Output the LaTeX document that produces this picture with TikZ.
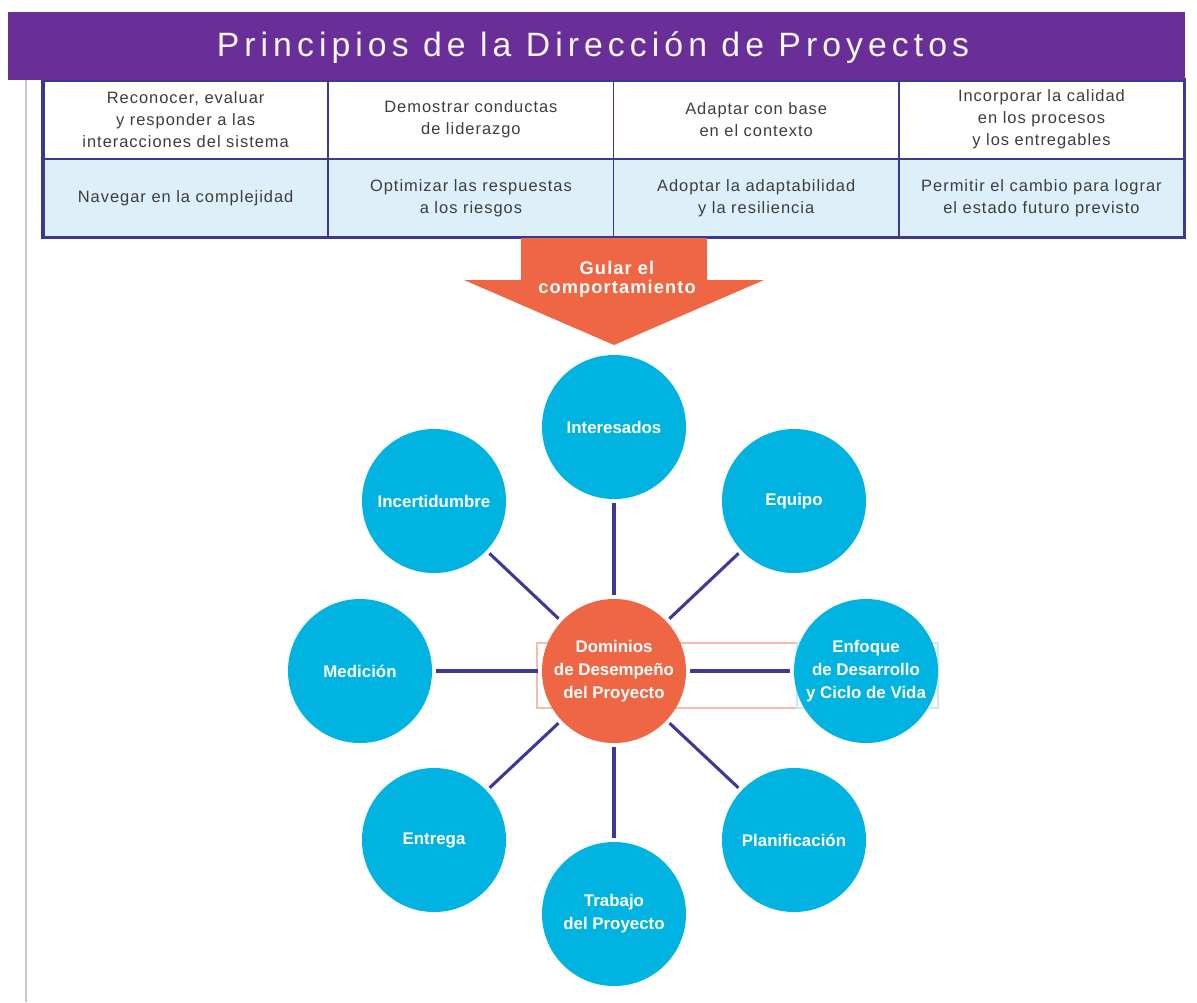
\documentclass[tikz,border=0pt]{standalone}
\usepackage{fontspec}
\setmainfont{Liberation Sans}
\newfontfamily\titulofont{Liberation Sans}[LetterSpace=15]
\newfontfamily\tablafont{Liberation Sans}[LetterSpace=6]
\newfontfamily\flechafont{Liberation Sans}[LetterSpace=6]
\usetikzlibrary{positioning}

\definecolor{tituloMorado}{HTML}{6A2E98}
\definecolor{bordeTabla}{HTML}{3C3990}
\definecolor{filaAzul}{HTML}{DDEFF9}
\definecolor{textoGris}{HTML}{3D3D3D}
\definecolor{circAzul}{HTML}{00B3E0}
\definecolor{circNaranja}{HTML}{EF6644}
\definecolor{lineaAzul}{HTML}{3F3896}

\begin{document}
\begin{tikzpicture}[x=0.025cm,y=-0.025cm,
    celda/.style={draw=bordeTabla,line width=1.2pt,fill=white,rectangle,outer sep=0pt,inner sep=0pt,
        minimum width=7.13cm,minimum height=1.975cm,align=center,text=textoGris,
        font=\tablafont\fontsize{11.7}{15.6}\selectfont},
    celdaazul/.style={celda,fill=filaAzul,minimum height=1.95cm},
    dominio/.style={circle,fill=circAzul,minimum size=3.6cm,inner sep=0pt,align=center,
        text=white,font=\bfseries\fontsize{12}{16.5}\selectfont},
    enlace/.style={draw=lineaAzul,line width=2.2pt,shorten <=2.8pt,shorten >=2.8pt}]

    \useasboundingbox (0,0) rectangle (1197,1002);
    \fill[white] (0,0) rectangle (1197,1002);

    % linea gris del margen
    \draw[gray!45,line width=1.2pt] (26,80) -- (26,1002);

    % tabla de principios
    \node[celda,anchor=north west] (p1) at (43,80) {Reconocer, evaluar\\y responder a las\\interacciones del sistema};
    \node[celda,right=0pt of p1] (p2) {Demostrar conductas\\de liderazgo};
    \node[celda,right=0pt of p2] (p3) {Adaptar con base\\en el contexto};
    \node[celda,right=0pt of p3] (p4) {Incorporar la calidad\\en los procesos\\y los entregables};

    \node[celdaazul,below=0pt of p1] (p5) {Navegar en la complejidad};
    \node[celdaazul,below=0pt of p2] (p6) {Optimizar las respuestas\\a los riesgos};
    \node[celdaazul,below=0pt of p3] (p7) {Adoptar la adaptabilidad\\y la resiliencia};
    \node[celdaazul,below=0pt of p4] (p8) {Permitir el cambio para lograr\\el estado futuro previsto};

    \draw[bordeTabla,line width=2.2pt] (p1.north west) rectangle (p8.south east);

    % barra del titulo
    \node[fill=tituloMorado,minimum width=29.425cm,minimum height=1.7cm,inner sep=0pt] (barra) at (596.5,46) {};
    \node[anchor=base,text=white!94!gray,font=\titulofont\fontsize{24}{27}\selectfont] (titulo) at (593,56)
        {Principios de la Dirección de Proyectos};

    % flecha
    \fill[circNaranja] (521,238) -- (707,238) -- (707,280) -- (764,280) -- (614,345)
        -- (464,280) -- (521,280) -- cycle;
    \node[align=center,text=white,font=\flechafont\bfseries\fontsize{13}{13.5}\selectfont] (guia) at (617,279)
        {Gular el\\comportamiento};

    % marcos tenues
    \draw[circNaranja!45,line width=0.8pt] (537,643) rectangle (797,708);
    \draw[circAzul!25,line width=0.8pt] (797,643) rectangle (938,708);

    % dominios
    \node[dominio,fill=circNaranja] (centro) at (614,671) {Dominios\\de Desempeño\\del Proyecto};
    \node[dominio] (interesados) at (614,427) {Interesados};
    \node[dominio] (equipo) at (794,501) {Equipo};
    \node[dominio] (enfoque) at (866,671) {Enfoque\\de Desarrollo\\y Ciclo de Vida};
    \node[dominio] (planificacion) at (794,840) {Planificación};
    \node[dominio] (trabajo) at (614,914) {Trabajo\\del Proyecto};
    \node[dominio] (entrega) at (434,840) {Entrega};
    \node[dominio] (medicion) at (360,671) {Medición};
    \node[dominio] (incertidumbre) at (434,501) {Incertidumbre};

    \draw[enlace] (centro) -- (interesados);
    \draw[enlace] (centro) -- (equipo);
    \draw[enlace] (centro) -- (enfoque);
    \draw[enlace] (centro) -- (planificacion);
    \draw[enlace] (centro) -- (trabajo);
    \draw[enlace] (centro) -- (entrega);
    \draw[enlace] (centro) -- (medicion);
    \draw[enlace] (centro) -- (incertidumbre);
\end{tikzpicture}
\end{document}
